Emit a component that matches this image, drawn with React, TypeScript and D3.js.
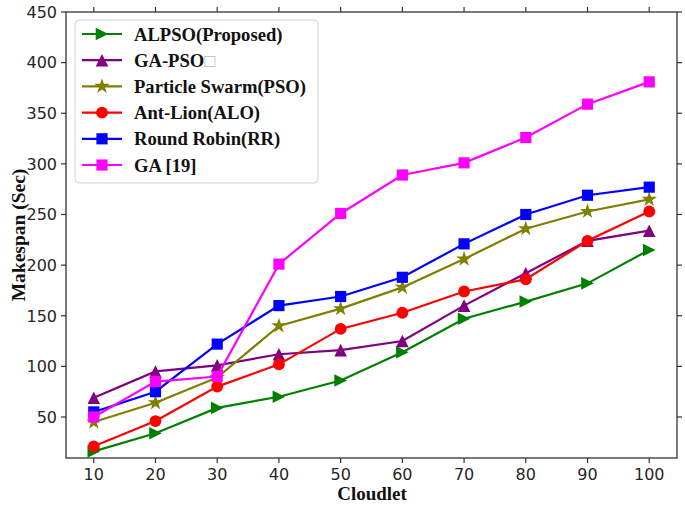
import React from "react";
import * as d3 from "d3";

const cloudlets = [10, 20, 30, 40, 50, 60, 70, 80, 90, 100];
const alpso = [16, 34, 59, 70, 86, 114, 147, 164, 182, 215];
const gapso = [69, 95, 101, 112, 116, 125, 160, 192, 224, 234];
const pso = [45, 64, 89, 140, 157, 178, 206, 236, 253, 265];
const alo = [21, 46, 80, 102, 137, 153, 174, 186, 224, 253];
const rr = [55, 75, 122, 160, 169, 188, 221, 250, 269, 277];
const ga = [50, 85, 90, 201, 251, 289, 301, 326, 359, 381];
const yTicks = [50, 100, 150, 200, 250, 300, 350, 400, 450];
const xTicks = [10, 20, 30, 40, 50, 60, 70, 80, 90, 100];

type Marker = "tri-right" | "tri-up" | "star" | "circle" | "square";
const series: { name: string; values: number[]; color: string; marker: Marker }[] = [
  { name: "ALPSO(Proposed)", values: alpso, color: "#008000", marker: "tri-right" },
  { name: "GA-PSO", values: gapso, color: "#800080", marker: "tri-up" },
  { name: "Particle Swarm(PSO)", values: pso, color: "#808000", marker: "star" },
  { name: "Ant-Lion(ALO)", values: alo, color: "#ff0000", marker: "circle" },
  { name: "Round Robin(RR)", values: rr, color: "#0000ff", marker: "square" },
  { name: "GA [19]", values: ga, color: "#ff00ff", marker: "square" },
];

function markerPath(m: Marker): string {
  const r = 6.3;
  switch (m) {
    case "tri-right":
      return `M${r},0L${-r},${-r}L${-r},${r}Z`;
    case "tri-up":
      return `M0,${-r}L${-r},${r}L${r},${r}Z`;
    case "star":
      return d3.symbol().type(d3.symbolStar).size(75)() as string;
    case "circle":
      return d3.symbol().type(d3.symbolCircle).size(110)() as string;
    case "square":
      return d3.symbol().type(d3.symbolSquare).size(125)() as string;
  }
}

export default function App() {
  const W = 685, H = 507;
  const left = 66, right = 677, top = 12, bottom = 458;
  const x = d3.scaleLinear().domain([5.5, 104.5]).range([left, right]);
  const y = d3.scaleLinear().domain([9.5, 450]).range([bottom, top]);
  const line = d3.line<number>().x((_, i) => x(cloudlets[i])).y((v) => y(v));
  const tickColor = "#262626";
  const serif = "'Liberation Serif', 'Times New Roman', serif";
  const sans = "'DejaVu Sans', sans-serif";

  const lgX = 75, lgY = 20, lgW = 243, lgH = 163;
  const rowY0 = 34, rowDy = 26.2;

  return (
    <svg width={W} height={H} style={{ position: "absolute", left: 0, top: 0 }}>
      <rect x={0} y={0} width={W} height={H} fill="#fff" />
      {series.map((s) => (
        <g key={s.name}>
          <path d={line(s.values) as string} fill="none" stroke={s.color} strokeWidth={2.2} />
          {s.values.map((v, i) => (
            <path
              key={i}
              d={markerPath(s.marker)}
              transform={`translate(${x(cloudlets[i])},${y(v)})`}
              fill={s.color}
            />
          ))}
        </g>
      ))}
      <rect x={left} y={top} width={right - left} height={bottom - top} fill="none" stroke="#333" strokeWidth={1.3} />
      {yTicks.map((t) => (
        <g key={t}>
          <line x1={left - 5} x2={left} y1={y(t)} y2={y(t)} stroke="#333" strokeWidth={1.2} />
          <line x1={right} x2={right + 5} y1={y(t)} y2={y(t)} stroke="#333" strokeWidth={1.2} />
          <text x={left - 9} y={y(t)} dy="0.36em" textAnchor="end" fontFamily={sans} fontSize={16} fill={tickColor}>
            {t}
          </text>
        </g>
      ))}
      {xTicks.map((t) => (
        <g key={t}>
          <line x1={x(t)} x2={x(t)} y1={bottom} y2={bottom + 5} stroke="#333" strokeWidth={1.2} />
          <line x1={x(t)} x2={x(t)} y1={top - 5} y2={top} stroke="#333" strokeWidth={1.2} />
          <text x={x(t)} y={bottom + 22} textAnchor="middle" fontFamily={sans} fontSize={16} fill={tickColor}>
            {t}
          </text>
        </g>
      ))}
      <text x={372} y={500} textAnchor="middle" fontFamily={serif} fontWeight="bold" fontSize={19} fill="#111">
        Cloudlet
      </text>
      <text
        transform={`translate(25,${(top + bottom) / 2}) rotate(-90)`}
        textAnchor="middle"
        fontFamily={serif}
        fontWeight="bold"
        fontSize={19.5}
        fill="#111"
      >
        Makespan (Sec)
      </text>
      <rect x={lgX} y={lgY} width={lgW} height={lgH} rx={4} fill="#fff" fillOpacity={0.85} stroke="#d0d0d0" strokeWidth={1} />
      {series.map((s, i) => {
        const cy = rowY0 + i * rowDy;
        return (
          <g key={s.name}>
            <line x1={82} x2={122} y1={cy} y2={cy} stroke={s.color} strokeWidth={2.2} />
            <path d={markerPath(s.marker)} transform={`translate(102,${cy})`} fill={s.color} />
            <text x={134} y={cy} dy="0.35em" fontFamily={serif} fontWeight="bold" fontSize={18.6} fill="#111">
              {s.name}
              {s.name === "GA-PSO" ? <tspan fill="#bbb" fontWeight="normal">□</tspan> : null}
            </text>
          </g>
        );
      })}
    </svg>
  );
}
